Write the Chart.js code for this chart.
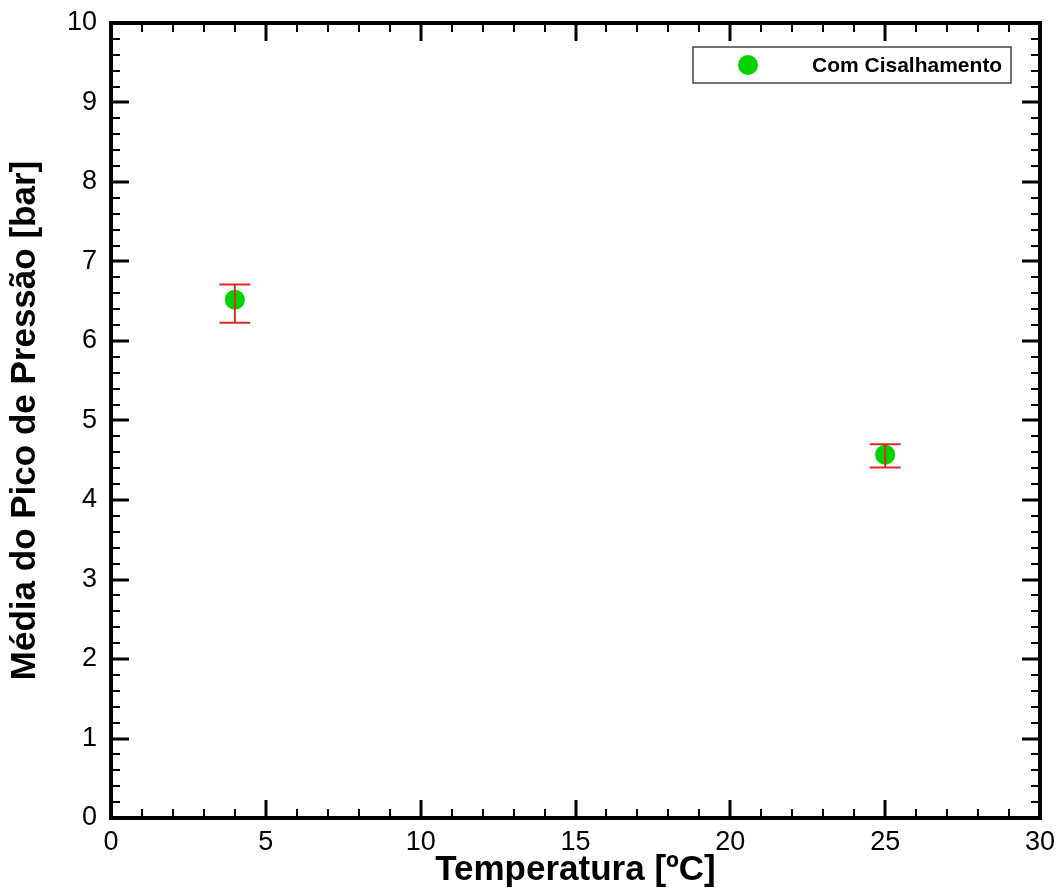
<!DOCTYPE html>
<html>
<head>
<meta charset="utf-8">
<script src="https://cdn.jsdelivr.net/npm/chart.js@4.4.1/dist/chart.umd.min.js"></script>
<style>
  html, body { margin: 0; padding: 0; background: #fff; }
  #wrap { width: 1060px; height: 888px; }
</style>
</head>
<body>
<div id="wrap"><canvas id="scatterChart"></canvas></div>
<script>
// values
const temperatures = [4, 25];
const pressureMean = [6.52, 4.57];
const errorUpper = [6.71, 4.70];
const errorLower = [6.23, 4.41];
const seriesLabel = 'Com Cisalhamento';
const xRange = [0, 30];
const yRange = [0, 10];
const xMajorStep = 5, xMinorStep = 1;
const yMajorStep = 1, yMinorStep = 0.2;

const FONT = '"Liberation Sans", Arial, Helvetica, sans-serif';
const GREEN = '#00d200';
const RED = '#e02828';

// inward ticks on all four sides + frame
const frameTicks = {
  id: 'frameTicks',
  afterDraw(chart) {
    const { ctx, chartArea: a, scales } = chart;
    const xs = scales.x, ys = scales.y;
    ctx.save();
    ctx.strokeStyle = '#000';
    ctx.lineCap = 'butt';

    const tick = (len, w, fn) => { ctx.lineWidth = w; ctx.beginPath(); fn(len); ctx.stroke(); };

    for (let v = xRange[0]; v <= xRange[1] + 1e-9; v += xMinorStep) {
      const px = Math.round(xs.getPixelForValue(v));
      const major = Math.abs(v / xMajorStep - Math.round(v / xMajorStep)) < 1e-6;
      const len = major ? 18 : 9;
      tick(len, major ? 3 : 2, l => {
        ctx.moveTo(px, a.bottom); ctx.lineTo(px, a.bottom - l);
        ctx.moveTo(px, a.top); ctx.lineTo(px, a.top + l);
      });
    }
    for (let v = yRange[0]; v <= yRange[1] + 1e-9; v += yMinorStep) {
      const py = Math.round(ys.getPixelForValue(v));
      const major = Math.abs(v / yMajorStep - Math.round(v / yMajorStep)) < 1e-6;
      const len = major ? 18 : 9;
      tick(len, major ? 3 : 2, l => {
        ctx.moveTo(a.left, py); ctx.lineTo(a.left + l, py);
        ctx.moveTo(a.right, py); ctx.lineTo(a.right - l, py);
      });
    }

    ctx.lineWidth = 4;
    ctx.lineJoin = 'miter';
    ctx.strokeRect(a.left, a.top, a.right - a.left, a.bottom - a.top);
    ctx.restore();
  }
};

// red error bars with caps
const errorBars = {
  id: 'errorBars',
  afterDatasetsDraw(chart) {
    const { ctx, scales } = chart;
    ctx.save();
    ctx.strokeStyle = RED;
    ctx.lineWidth = 2;
    temperatures.forEach((t, i) => {
      const px = scales.x.getPixelForValue(t);
      const top = scales.y.getPixelForValue(errorUpper[i]);
      const bot = scales.y.getPixelForValue(errorLower[i]);
      ctx.beginPath();
      ctx.moveTo(px, top); ctx.lineTo(px, bot);
      ctx.moveTo(px - 15.5, top); ctx.lineTo(px + 15.5, top);
      ctx.moveTo(px - 15.5, bot); ctx.lineTo(px + 15.5, bot);
      ctx.stroke();
    });
    ctx.restore();
  }
};

// boxed legend in the upper right
const boxLegend = {
  id: 'boxLegend',
  afterDraw(chart) {
    const { ctx, chartArea: a } = chart;
    const bx = a.right - 347, by = a.top + 24, bw = 318, bh = 36;
    ctx.save();
    ctx.fillStyle = '#fff';
    ctx.fillRect(bx, by, bw, bh);
    ctx.strokeStyle = '#444';
    ctx.lineWidth = 1.5;
    ctx.strokeRect(bx, by, bw, bh);
    ctx.fillStyle = GREEN;
    ctx.beginPath();
    ctx.arc(bx + 55, by + bh / 2, 10, 0, Math.PI * 2);
    ctx.fill();
    ctx.fillStyle = '#000';
    ctx.font = 'bold 21px ' + FONT;
    ctx.textAlign = 'left';
    ctx.textBaseline = 'middle';
    ctx.fillText(seriesLabel, bx + 119, by + bh / 2 + 1);
    ctx.restore();
  }
};

new Chart(document.getElementById('scatterChart'), {
  type: 'scatter',
  data: {
    datasets: [{
      label: seriesLabel,
      data: temperatures.map((t, i) => ({ x: t, y: pressureMean[i] })),
      backgroundColor: GREEN,
      borderWidth: 0,
      pointRadius: 10,
      pointHoverRadius: 10
    }]
  },
  options: {
    responsive: true,
    maintainAspectRatio: false,
    animation: false,
    layout: { padding: { left: 0, top: 23, right: 20, bottom: 0 } },
    plugins: {
      legend: { display: false },
      tooltip: { enabled: false }
    },
    scales: {
      x: {
        type: 'linear',
        min: xRange[0],
        max: xRange[1],
        grid: { display: false, drawTicks: false },
        border: { display: false },
        ticks: {
          stepSize: xMajorStep,
          color: '#000',
          padding: 8,
          font: { family: FONT, size: 27 }
        },
        title: {
          display: true,
          text: 'Temperatura [ºC]',
          color: '#000',
          padding: { top: 0, bottom: 0 },
          font: { family: FONT, size: 35, weight: 'bold', lineHeight: 1 }
        },
        afterFit(s) { s.height = 70; s.paddingLeft = 0; s.paddingRight = 0; }
      },
      y: {
        type: 'linear',
        min: yRange[0],
        max: yRange[1],
        grid: { display: false, drawTicks: false },
        border: { display: false },
        ticks: {
          stepSize: yMajorStep,
          color: '#000',
          padding: 14,
          font: { family: FONT, size: 27 }
        },
        title: {
          display: true,
          text: 'Média do Pico de Pressão [bar]',
          color: '#000',
          padding: { top: 8, bottom: 0 },
          font: { family: FONT, size: 35, weight: 'bold', lineHeight: 1 }
        },
        afterFit(s) { s.width = 111; s.paddingTop = 0; s.paddingBottom = 0; }
      }
    }
  },
  plugins: [errorBars, frameTicks, boxLegend]
});
</script>
</body>
</html>
